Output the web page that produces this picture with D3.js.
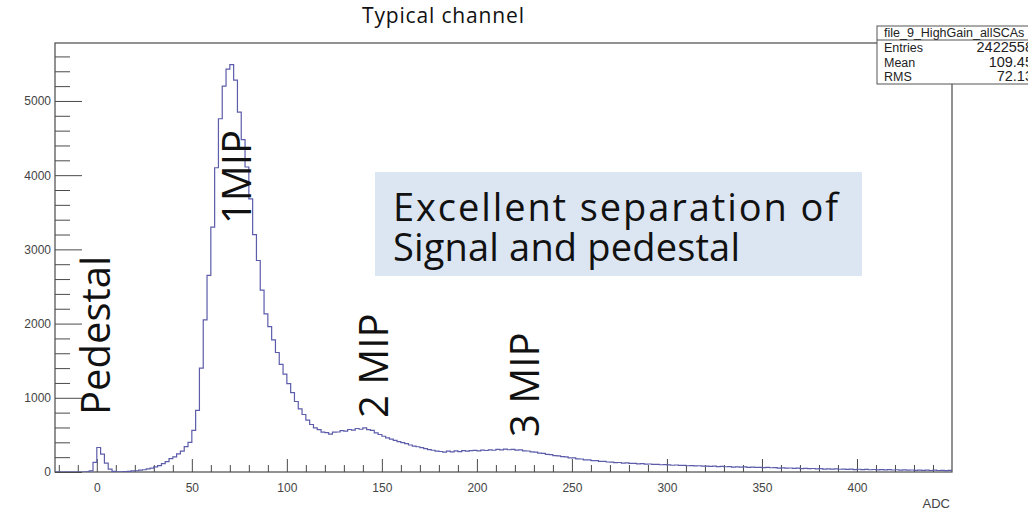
<!DOCTYPE html>
<html>
<head>
<meta charset="utf-8">
<script src="https://cdn.jsdelivr.net/npm/d3@7"></script>
<style>
  html, body { margin: 0; padding: 0; background: #fff; overflow: hidden; }
  svg { display: block; }
</style>
</head>
<body>
<svg id="chart" width="1028" height="514"></svg>
<script>
// ADC spectrum, fixed-width bins starting at adcLowEdge
const adcLowEdge = -22;
const adcBinWidth = 2;
const adcHighEdge = 450;
const counts = [
  // -22 .. -8
  0, 0, 0, 0, 0, 0, 0, 0,
  // -6 .. 10  (pedestal)
  2, 15, 130, 330, 240, 120, 40, 8, 2,
  // 12 .. 46
  3, 6, 9, 14, 17, 25, 30, 43, 51, 68, 86, 114, 139, 180, 203, 243, 280, 342,
  // 48 .. 114  (1 MIP)
  400, 560, 830, 1400, 2050, 2650, 3300, 4100, 4760, 5200, 5430, 5490, 5280, 4850,
  4480, 4110, 3680, 3200, 2850, 2450, 2130, 1960, 1780, 1610, 1450, 1320, 1190, 1070,
  950, 850, 775, 700, 640, 595,
  // 116 .. 178  (2 MIP)
  570, 538, 530, 510, 536, 539, 558, 550, 573, 564, 586, 576, 595, 572, 562, 526,
  505, 482, 460, 444, 425, 410, 395, 382, 364, 350, 340, 329, 314, 301, 293, 281,
  // 180 .. 298  (3 MIP)
  276, 268, 281, 271, 284, 274, 289, 280, 287, 292, 285, 296, 290, 299, 293, 304,
  297, 308, 300, 306, 295, 298, 286, 283, 271, 268, 255, 251, 238, 235, 222, 218,
  206, 203, 191, 189, 176, 175, 164, 163, 152, 153, 143, 142, 135, 134, 127, 128,
  120, 122, 115, 117, 110, 112, 106, 108, 102, 104, 98, 100,
  // 300 .. 448  (tail)
  96, 91, 94, 88, 90, 84, 87, 82, 84, 78, 80, 76, 78, 72, 75, 71,
  73, 67, 70, 66, 68, 62, 66, 61, 63, 59, 61, 57, 59, 53, 56, 52,
  54, 49, 52, 46, 50, 45, 47, 43, 46, 40, 43, 39, 42, 37, 40, 36,
  38, 33, 37, 33, 35, 30, 34, 29, 32, 28, 31, 27, 30, 25, 28, 25,
  27, 22, 26, 22, 25, 20, 24, 20, 23, 19, 21
];

const xMajorTicks = [0, 50, 100, 150, 200, 250, 300, 350, 400];
const yMajorTicks = [0, 1000, 2000, 3000, 4000, 5000];
const xTitle = "ADC";
const chartTitle = "Typical channel";

const statsTitle = "file_9_HighGain_allSCAs";
const statsNames = ["Entries", "Mean", "RMS"];
const statsValues = ["2422558", "109.45", "72.13"];

const noteLines = ["Excellent separation of", "Signal and pedestal"];
const peakNames = ["Pedestal", "1MIP", "2 MIP", "3 MIP"];

// ---------------------------------------------------------------
const svg = d3.select("#chart");
const frame = { left: 55, right: 952, top: 43, bottom: 472 };
const yMax = d3.max(counts) * 1.053;

const x = d3.scaleLinear().domain([adcLowEdge, adcHighEdge]).range([frame.left, frame.right]);
const y = d3.scaleLinear().domain([0, yMax]).range([frame.bottom, frame.top]);

const axisColor = "#4a4a4a";
const labelFont = "'Liberation Sans', Arial, sans-serif";
const noteFont = "'Open Sans', 'Noto Sans', sans-serif";

svg.append("defs").append("clipPath").attr("id", "plotClip")
  .append("rect")
  .attr("x", frame.left).attr("y", frame.top)
  .attr("width", frame.right - frame.left).attr("height", frame.bottom - frame.top);

// minor ticks every 10 ADC and every 200 counts
const xMinorVals = d3.range(-20, adcHighEdge, 10).filter(d => d % 50 !== 0);
const yMinorVals = d3.range(0, yMax, 200).filter(d => d % 1000 !== 0);

const xMinorAxis = d3.axisBottom(x).tickValues(xMinorVals).tickSizeInner(-7).tickSizeOuter(0).tickFormat("");
const yMinorAxis = d3.axisLeft(y).tickValues(yMinorVals).tickSizeInner(-15).tickSizeOuter(0).tickFormat("");

const xAxis = d3.axisBottom(x).tickValues(xMajorTicks).tickSizeInner(-13).tickSizeOuter(0)
  .tickPadding(11).tickFormat(d3.format("d"));
const yAxis = d3.axisLeft(y).tickValues(yMajorTicks).tickSizeInner(-27).tickSizeOuter(0)
  .tickPadding(4).tickFormat(d3.format("d"));

function styleAxis(g) {
  g.selectAll("path.domain").remove();
  g.selectAll("line").attr("stroke", axisColor).attr("stroke-width", 1);
  g.selectAll("text").attr("fill", "#444").attr("font-family", labelFont).attr("font-size", 12);
}

svg.append("g").attr("transform", `translate(0,${frame.bottom})`).call(xMinorAxis).call(styleAxis);
svg.append("g").attr("transform", `translate(${frame.left},0)`).call(yMinorAxis).call(styleAxis);
svg.append("g").attr("transform", `translate(0,${frame.bottom})`).call(xAxis).call(styleAxis);
svg.append("g").attr("transform", `translate(${frame.left},0)`).call(yAxis).call(styleAxis);

// frame
svg.append("rect")
  .attr("x", frame.left).attr("y", frame.top)
  .attr("width", frame.right - frame.left).attr("height", frame.bottom - frame.top)
  .attr("fill", "none").attr("stroke", axisColor).attr("stroke-width", 1.2);

// histogram as steps
const stepPts = [];
counts.forEach((c, i) => {
  const x0 = adcLowEdge + i * adcBinWidth;
  stepPts.push([x0, c], [x0 + adcBinWidth, c]);
});
const histLine = d3.line().x(d => x(d[0])).y(d => y(d[1]));
svg.append("path")
  .attr("clip-path", "url(#plotClip)")
  .attr("d", histLine(stepPts))
  .attr("fill", "none")
  .attr("stroke", "#5c5cab")
  .attr("stroke-width", 1.2);

// axis title
svg.append("text")
  .attr("x", frame.right - 2).attr("y", 508)
  .attr("text-anchor", "end")
  .attr("font-family", labelFont).attr("font-size", 13).attr("fill", "#444")
  .text(xTitle);

// chart title
svg.append("text")
  .attr("x", 443).attr("y", 23)
  .attr("text-anchor", "middle")
  .attr("font-family", noteFont).attr("font-size", 21).attr("fill", "#111")
  .attr("textLength", 162).attr("lengthAdjust", "spacing")
  .text(chartTitle);

// statistics box
const stats = svg.append("g");
stats.append("rect")
  .attr("x", 877).attr("y", 26).attr("width", 180).attr("height", 58)
  .attr("fill", "#fff").attr("stroke", "#555").attr("stroke-width", 1);
stats.append("line")
  .attr("x1", 877).attr("x2", 1057).attr("y1", 40).attr("y2", 40)
  .attr("stroke", "#555").attr("stroke-width", 1);
stats.append("text")
  .attr("x", 884).attr("y", 37)
  .attr("font-family", labelFont).attr("font-size", 12.5).attr("fill", "#222")
  .text(statsTitle);
statsNames.forEach((name, i) => {
  const rowY = 52 + i * 14.5;
  stats.append("text")
    .attr("x", 884).attr("y", rowY)
    .attr("font-family", labelFont).attr("font-size", 12.5).attr("fill", "#222")
    .text(name);
  stats.append("text")
    .attr("x", 1033).attr("y", rowY)
    .attr("text-anchor", "end")
    .attr("font-family", labelFont).attr("font-size", 14.5).attr("fill", "#222")
    .text(statsValues[i]);
});

// annotation box
svg.append("rect")
  .attr("x", 375).attr("y", 172).attr("width", 487).attr("height", 104)
  .attr("fill", "#dce6f2");
const noteWidths = [445, 347];
noteLines.forEach((line, i) => {
  svg.append("text")
    .attr("x", 393).attr("y", 221 + i * 40)
    .attr("font-family", noteFont).attr("font-size", 38).attr("fill", "#111")
    .attr("textLength", noteWidths[i]).attr("lengthAdjust", "spacing")
    .text(line);
});

// vertical peak labels
const peakAnchors = [[110, 415], [251, 224], [388, 418], [539, 437]];
peakNames.forEach((name, i) => {
  svg.append("text")
    .attr("transform", `translate(${peakAnchors[i][0]},${peakAnchors[i][1]}) rotate(-90)`)
    .attr("font-family", noteFont).attr("font-size", 40).attr("fill", "#111")
    .text(name);
});
</script>
</body>
</html>
